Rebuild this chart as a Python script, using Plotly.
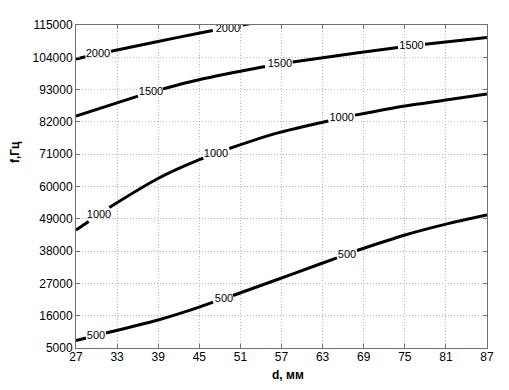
import plotly.graph_objects as go

# Axis ticks
x_ticks = [27, 33, 39, 45, 51, 57, 63, 69, 75, 81, 87]
y_ticks = [5000, 16000, 27000, 38000, 49000, 60000, 71000, 82000, 93000, 104000, 115000]

# Contour level 500 (None = gap for inline label)
c500_x = [27, 28.46, None, 31.38, 38.97, 45.10, 47.0, None, 49.92, 56.20, 62.62, 65.10, None, 68.02, 75.03, 81.01, 87]
c500_y = [7555, 8406, None, 10109, 14537, 19000, 20600, None, 22882, 28161, 33610, 35722, None, 38209, 43488, 47200, 50300]

# Contour level 1000
c1000_x = [27, 28.85, None, 31.86, 38.97, 45.10, 45.58, None, 49.38, 56.20, 63.83, None, 67.73, 75.03, 81.01, 87]
c1000_y = [45191, 48086, None, 52854, 62732, 69203, 69612, None, 72950, 78100, 82316, None, 84300, 87425, 89469, 91512]

# Contour level 1500
c1500_x = [27, 36.05, None, 39.70, 45.10, 54.59, None, 58.64, 67.93, 74.0, None, 77.95, 87]
c1500_y = [84019, 90763, None, 93250, 96417, 100845, None, 102412, 105443, 107316, None, 108440, 110756]

# Contour level 2000
c2000_x = [27, 28.36, None, 32.11, 38.97, 45.10, 46.96, None, 51.34, 53.28]
c2000_y = [103433, 104183, None, 106090, 109394, 112289, 113141, None, 115014, 115865]

# Inline contour labels
lab_x = [29.92, 48.61, 66.56, 30.36, 47.44, 65.79, 37.95, 56.78, 75.98, 30.21, 49.19]
lab_y = [9000, 21500, 36700, 50300, 70906, 83338, 92057, 101696, 107861, 104966, 113720]
lab_t = ["500", "500", "500", "1000", "1000", "1000", "1500", "1500", "1500", "2000", "2000"]

fig = go.Figure()
for xs, ys in [(c500_x, c500_y), (c1000_x, c1000_y), (c1500_x, c1500_y), (c2000_x, c2000_y)]:
    fig.add_trace(go.Scatter(x=xs, y=ys, mode="lines",
                             line=dict(color="black", width=3, shape="spline", smoothing=0.8),
                             connectgaps=False, hoverinfo="skip", showlegend=False))

fig.add_trace(go.Scatter(x=lab_x, y=lab_y, mode="text", text=lab_t,
                         textposition="middle center",
                         textfont=dict(family="Arial, Liberation Sans", size=11, color="black"),
                         showlegend=False, hoverinfo="skip"))

axis_common = dict(
    showgrid=True, gridcolor="#b8b8b8", griddash="1px,2px", gridwidth=1,
    showline=True, linecolor="#707070", linewidth=1, mirror="ticks",
    ticks="inside", ticklen=4, tickcolor="#707070",
    tickfont=dict(family="Arial, Liberation Sans", size=12, color="black"),
    zeroline=False,
)

fig.update_layout(
    width=509, height=390,
    margin=dict(l=76, r=22, t=25, b=42),
    paper_bgcolor="white", plot_bgcolor="white",
    xaxis=dict(range=[27, 87], tickvals=x_ticks, ticktext=[str(v) for v in x_ticks],
               ticklabelstandoff=-2, **axis_common),
    yaxis=dict(range=[5000, 115000], tickvals=y_ticks, ticktext=[str(v) for v in y_ticks],
               ticklabelstandoff=0, **axis_common),
    annotations=[
        dict(text="<b>d, мм</b>", xref="paper", yref="paper", x=0.516, y=-0.0836,
             xanchor="center", yanchor="middle", showarrow=False,
             font=dict(family="Arial, Liberation Sans", size=12, color="black")),
        dict(text="<b>f,Гц</b>", xref="paper", yref="paper", x=-0.148, y=0.607,
             xanchor="center", yanchor="middle", showarrow=False, textangle=-90,
             font=dict(family="Arial, Liberation Sans", size=12, color="black")),
    ],
)

fig.write_html("out.html")
